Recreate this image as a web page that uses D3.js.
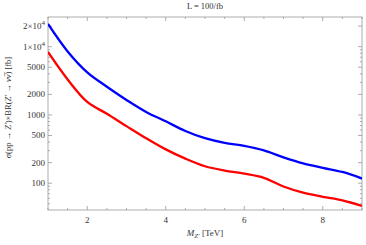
<!DOCTYPE html>
<html>
<head>
<meta charset="utf-8">
<script src="https://cdn.jsdelivr.net/npm/d3@7"></script>
<style>
  body { margin: 0; background: #fff; }
  text { font-family: "Liberation Serif", "DejaVu Serif", serif; fill: #333; }
</style>
</head>
<body>
<script>
// masses in TeV
var masses = [1, 1.5, 2, 2.5, 3, 3.5, 4, 4.5, 5, 5.5, 6, 6.5, 7, 7.5, 8, 8.5, 9];
// cross section x BR in fb
var blueValues = [21500, 8510, 4200, 2590, 1660, 1107, 806, 583, 456, 389, 352, 302, 239, 195, 168, 146, 117];
var redValues  = [8360, 3310, 1550, 1040, 686, 456, 313, 229, 177, 153, 138, 120, 89.5, 72.6, 63.2, 56, 46.5];

var xTickValues = [2, 4, 6, 8];
var yTickValues = [100, 200, 500, 1000, 2000, 5000, 10000, 20000];
var yTickLabels = ["100", "200", "500", "1000", "2000", "5000", "1\u00d710^4", "2\u00d710^4"];

var width = 366, height = 245;
var margin = {top: 17, right: 4, bottom: 35, left: 48};
var w = width - margin.left - margin.right;
var h = height - margin.top - margin.bottom;

var svg = d3.select("body").append("svg")
  .attr("width", width).attr("height", height);
var g = svg.append("g").attr("transform", "translate(" + margin.left + "," + margin.top + ")");

var xScale = d3.scaleLinear().domain([1, 9]).range([0, w]);
var yScale = d3.scaleLog().domain([40.5, 27200]).range([h, 0]);

// minor ticks
var xMinor = d3.range(1, 9.01, 0.5).filter(function(d){ return xTickValues.indexOf(d) < 0; });
var yMinor = [];
[10, 100, 1000, 10000].forEach(function(dec){
  for (var k = 1; k <= 9; k++) {
    var v = dec * k;
    if (v >= 40.5 && v <= 27200 && yTickValues.indexOf(v) < 0) yMinor.push(v);
  }
});

var axisColor = "#999";
var axes = g.append("g").attr("stroke", axisColor).attr("stroke-width", 0.8);

// frame
axes.append("rect").attr("x", 0).attr("y", 0).attr("width", w).attr("height", h)
  .attr("fill", "none");

function xTicks(vals, len) {
  vals.forEach(function(d){
    var x = xScale(d);
    axes.append("line").attr("x1", x).attr("x2", x).attr("y1", h).attr("y2", h - len);
    axes.append("line").attr("x1", x).attr("x2", x).attr("y1", 0).attr("y2", len);
  });
}
function yTicks(vals, len) {
  vals.forEach(function(d){
    var y = yScale(d);
    axes.append("line").attr("x1", 0).attr("x2", len).attr("y1", y).attr("y2", y);
    axes.append("line").attr("x1", w).attr("x2", w - len).attr("y1", y).attr("y2", y);
  });
}
xTicks(xTickValues, 4);
xTicks(xMinor, 2);
yTicks(yTickValues, 4);
yTicks(yMinor, 2);

// x tick labels
g.selectAll(".xlab").data(xTickValues).enter().append("text")
  .attr("x", function(d){ return xScale(d); })
  .attr("y", h + 13)
  .attr("text-anchor", "middle")
  .style("font-size", "9px")
  .text(function(d){ return d; });

// y tick labels
yTickValues.forEach(function(d, i){
  var t = g.append("text")
    .attr("x", -3).attr("y", yScale(d) + 3)
    .attr("text-anchor", "end")
    .style("font-size", "9px");
  var lab = yTickLabels[i];
  if (lab.indexOf("^") >= 0) {
    var parts = lab.split("^");
    t.append("tspan").text(parts[0]);
    t.append("tspan").attr("dy", -4).style("font-size", "7px").text(parts[1]);
  } else {
    t.text(lab);
  }
});

// curves
var line = d3.line()
  .x(function(d){ return xScale(d[0]); })
  .y(function(d){ return yScale(d[1]); })
  .curve(d3.curveCatmullRom.alpha(0.5));

var clip = svg.append("clipPath").attr("id", "clip")
  .append("rect").attr("width", w).attr("height", h);

g.append("path")
  .datum(masses.map(function(m, i){ return [m, blueValues[i]]; }))
  .attr("d", line).attr("fill", "none")
  .attr("stroke", "#0000ff").attr("stroke-width", 2.3)
  .attr("clip-path", "url(#clip)");

g.append("path")
  .datum(masses.map(function(m, i){ return [m, redValues[i]]; }))
  .attr("d", line).attr("fill", "none")
  .attr("stroke", "#ff0000").attr("stroke-width", 2.3)
  .attr("clip-path", "url(#clip)");

// title
svg.append("text")
  .attr("x", margin.left + w / 2).attr("y", 9)
  .attr("text-anchor", "middle")
  .style("font-size", "8.5px")
  .text("L = 100/fb");

// x label
var xl = svg.append("text")
  .attr("x", margin.left + w / 2).attr("y", 236)
  .attr("text-anchor", "middle")
  .style("font-size", "9px");
xl.append("tspan").style("font-style", "italic").text("M");
xl.append("tspan").attr("dy", 2).style("font-size", "7px").style("font-style", "italic").text("Z\u2032");
xl.append("tspan").attr("dy", -2).text(" [TeV]");

// y label
var yl = svg.append("text")
  .attr("transform", "translate(11," + (margin.top + h / 2 - 6) + ") rotate(-90)")
  .attr("text-anchor", "middle")
  .style("font-size", "8.5px");
yl.append("tspan").style("font-style", "italic").text("\u03c3");
yl.append("tspan").text("(pp \u2192 ");
yl.append("tspan").style("font-style", "italic").text("Z\u2032");
yl.append("tspan").text(")\u00d7BR(");
yl.append("tspan").style("font-style", "italic").text("Z\u2032");
yl.append("tspan").text(" \u2192 ");
yl.append("tspan").style("font-style", "italic").text("\u03bd\u03bd\u0305");
yl.append("tspan").text(") [fb]");
</script>
</body>
</html>
